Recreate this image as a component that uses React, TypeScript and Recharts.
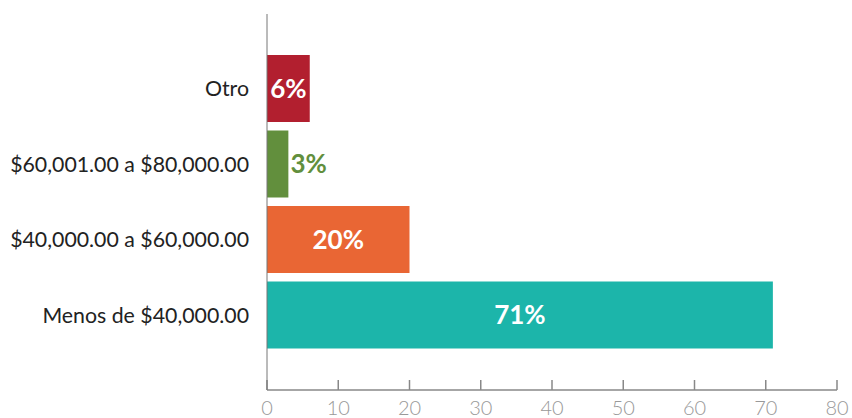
import React from 'react';
import { BarChart, Bar, XAxis, YAxis, Cell, LabelList } from 'recharts';

const categories = ['Otro', '$60,001.00 a $80,000.00', '$40,000.00 a $60,000.00', 'Menos de $40,000.00'];
const values = [6, 3, 20, 71];
const colors = ['#b21f2f', '#628f3d', '#e96634', '#1cb5aa'];
const xTicks = [0, 10, 20, 30, 40, 50, 60, 70, 80];

const data = categories.map((c, i) => ({ name: c, value: values[i], color: colors[i] }));

const BarLabel = (props: any) => {
  const { x, y, width, height, value, index } = props;
  const cy = y + height / 2;
  const text = `${value}%`;
  if (width < 30) {
    return (
      <text x={x + width + 2} y={cy} dy="0.36em" textAnchor="start" fill={colors[index]}
        fontFamily="Lato" fontWeight={700} fontSize={26}>{text}</text>
    );
  }
  return (
    <text x={x + width / 2} y={cy} dy="0.36em" textAnchor="middle" fill="#ffffff"
      fontFamily="Lato" fontWeight={700} fontSize={26}>{text}</text>
  );
};

export default function App() {
  return (
    <div style={{ position: 'absolute', left: 0, top: 0, width: 852, height: 418, background: '#fff' }}>
      <BarChart width={852} height={418} data={data} layout="vertical"
        margin={{ top: 14, right: 15, bottom: 0, left: 0 }}>
        <XAxis type="number" domain={[0, 80]} ticks={xTicks} interval={0} height={28}
          axisLine={{ stroke: '#888', strokeWidth: 1.5 }}
          tickLine={{ stroke: '#888', strokeWidth: 1.5 }} tickSize={-10} tickMargin={21}
          tick={{ fill: '#999', fontFamily: 'Lato', fontWeight: 300, fontSize: 20 }} />
        <YAxis type="category" dataKey="name" width={267} padding={{ top: 37, bottom: 37 }}
          axisLine={{ stroke: '#777', strokeWidth: 1 }} tickLine={false} tickSize={0} tickMargin={18}
          tick={{ fill: '#222', fontFamily: 'Lato', fontSize: 21.3 }} />
        <Bar dataKey="value" barSize={67} isAnimationActive={false}>
          {data.map((d, i) => <Cell key={i} fill={d.color} />)}
          <LabelList dataKey="value" content={<BarLabel />} />
        </Bar>
      </BarChart>
    </div>
  );
}
